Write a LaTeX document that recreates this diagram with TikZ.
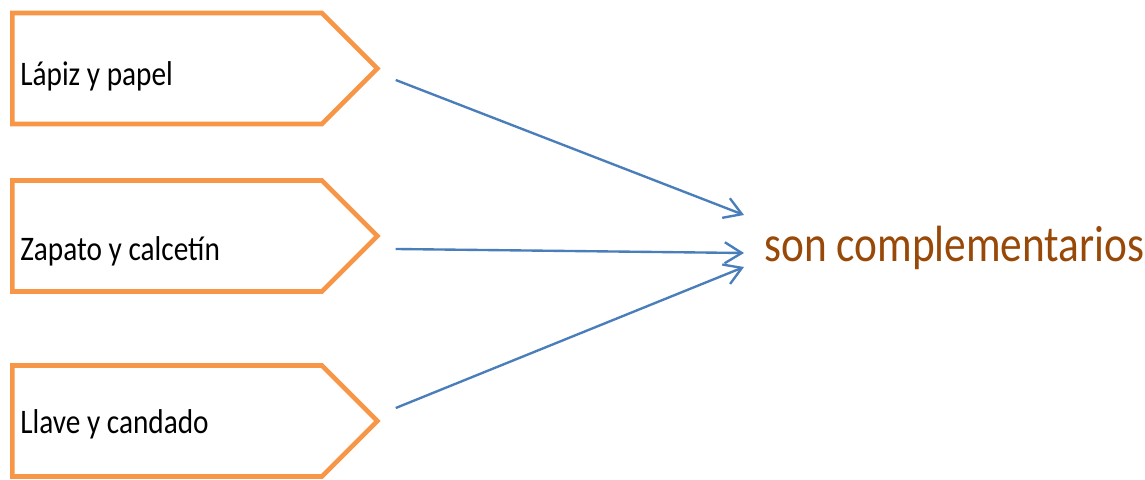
\documentclass[tikz,border=0pt]{standalone}
\usepackage{fontspec}
\usepackage{xcolor}
\usepackage{tikz}
\newfontfamily\boxfont[FakeStretch=0.85]{Carlito}
\definecolor{pairorange}{RGB}{247, 150, 70}
\definecolor{linkblue}{RGB}{74, 126, 187}
\definecolor{resultbrown}{RGB}{152, 72, 7}
\usetikzlibrary{shapes.symbols, arrows.meta, positioning, calc}

\begin{document}
\begin{tikzpicture}[
    pairbox/.style={signal, signal to=east, signal pointer angle=90, draw=pairorange, line width=2.7pt, fill=white, minimum width=7.30cm, minimum height=2.22cm, anchor=west},
    pairtext/.style={anchor=base west, inner sep=0pt, font=\boxfont\fontsize{19.6}{23}\selectfont},
    arrow/.style={-{Straight Barb[length=0.34cm, width=0.42cm]}, draw=linkblue, line width=1.35pt}
]
    \useasboundingbox (0,0) rectangle (22.9,9.58);

    \node[pairbox] (lapiz) at (0.2, 8.21) {};
    \node[pairbox] (zapato) at (0.2, 4.86) {};
    \node[pairbox] (llave) at (0.2, 1.16) {};

    \node[pairtext] (lapiztxt) at (0.4, 7.86) {Lápiz y papel};
    \node[pairtext] (zapatotxt) at (0.4, 4.38) {Zapato y calcetín};
    \node[pairtext] (llavetxt) at (0.4, 0.92) {Llave y candado};

    \node[anchor=base west, inner sep=0pt, text=resultbrown, font=\boxfont\fontsize{29}{34}\selectfont] (comp) at (15.28, 4.36) {son complementarios};

    \coordinate (in1) at ($(comp.base west)+(-0.4, 0.92)$);
    \coordinate (in2) at ($(comp.base west)+(-0.4, 0.16)$);
    \coordinate (in3) at ($(comp.base west)+(-0.4, -0.12)$);

    \draw[arrow] ($(lapiz.east)+(0.3, -0.23)$) -- (in1);
    \draw[arrow] ($(zapato.east)+(0.3, -0.26)$) -- (in2);
    \draw[arrow] ($(llave.east)+(0.3, 0.26)$) -- (in3);
\end{tikzpicture}
\end{document}
